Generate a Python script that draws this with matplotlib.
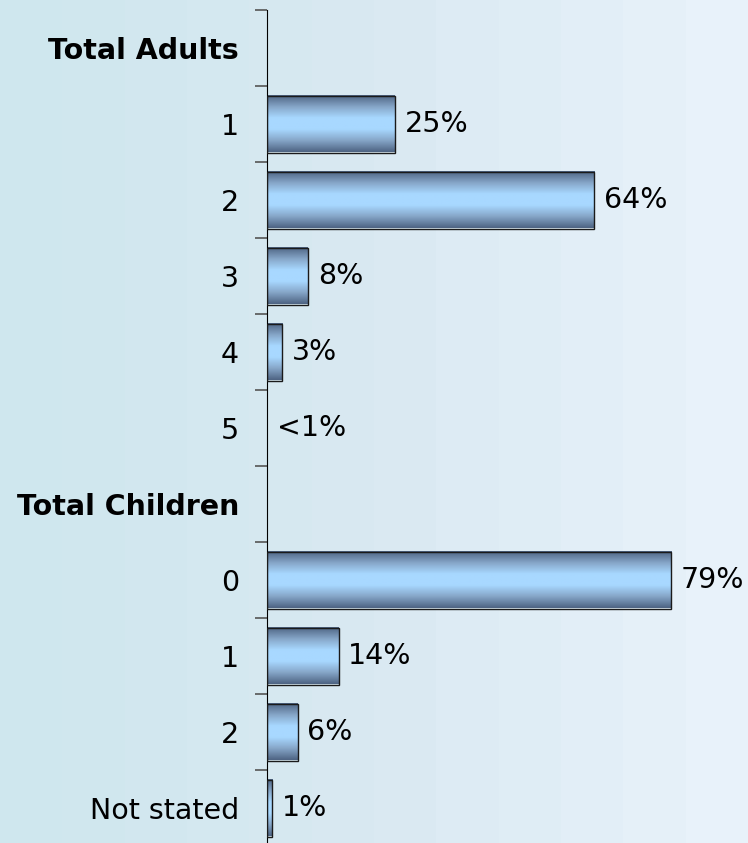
import numpy as np
import matplotlib.pyplot as plt
from matplotlib.colors import LinearSegmentedColormap

# Rows from top to bottom; None marks a section header
labels = ["Total Adults", "1", "2", "3", "4", "5",
          "Total Children", "0", "1", "2", "Not stated"]
values = [None, 25, 64, 8, 3, 0, None, 79, 14, 6, 1]
value_text = ["", "25%", "64%", "8%", "3%", "<1%", "", "79%", "14%", "6%", "1%"]

W, H = 748, 843
fig = plt.figure(figsize=(W / 100, H / 100), dpi=100)

# banded background, cyan on the left fading to pale blue on the right
bg = fig.add_axes([0, 0, 1, 1], zorder=-10)
bands = np.linspace(0, 1, 12)
bg_cmap = LinearSegmentedColormap.from_list("bg", ["#cfe7ee", "#d9e9f2", "#e8f2fa"])
bg.imshow(bands[np.newaxis, :], aspect="auto", cmap=bg_cmap,
          extent=[0, 1, 0, 1], interpolation="nearest")
bg.axis("off")

ax = fig.add_axes([267 / W, -3 / H, 1 - 267 / W, 836 / H])
ax.patch.set_alpha(0)

n = len(labels)
ypos = np.arange(n)
bar_h = 0.75

# steel blue bar shading: dark edges, light middle
bar_cmap = LinearSegmentedColormap.from_list(
    "bar", ["#4f6584", "#86a6c8", "#a8d8ff", "#a8d8ff", "#86a6c8", "#4f6584"])
shade = np.linspace(0, 1, 64)[:, np.newaxis]

for y, v, txt in zip(ypos, values, value_text):
    if v is None:
        continue
    if v > 0:
        bars = ax.barh(y, v, height=bar_h, color="none",
                       edgecolor="#1a1a1a", linewidth=1.0, zorder=3)
        r = bars[0]
        ax.imshow(shade, cmap=bar_cmap, aspect="auto", zorder=2,
                  extent=[0, v, y + bar_h / 2, y - bar_h / 2],
                  clip_path=r, clip_on=True)
    ax.text(v + 1.9, y, txt, va="center", ha="left", fontsize=20.5, color="black")

ax.set_xlim(0, 94)
ax.set_ylim(n - 0.5, -0.5)

ax.set_yticks(ypos)
ax.set_yticklabels(labels, fontsize=20.5)
for lab, v in zip(ax.get_yticklabels(), values):
    if v is None:
        lab.set_fontweight("bold")
ax.tick_params(axis="y", which="major", length=0, pad=20)
ax.set_yticks(np.arange(n) - 0.5, minor=True)
ax.tick_params(axis="y", which="minor", length=9, width=1.2, color="#555555")

ax.set_xticks([])
for s in ["top", "right", "bottom"]:
    ax.spines[s].set_visible(False)
ax.spines["left"].set_color("black")

fig.savefig("out.png", dpi=100)
